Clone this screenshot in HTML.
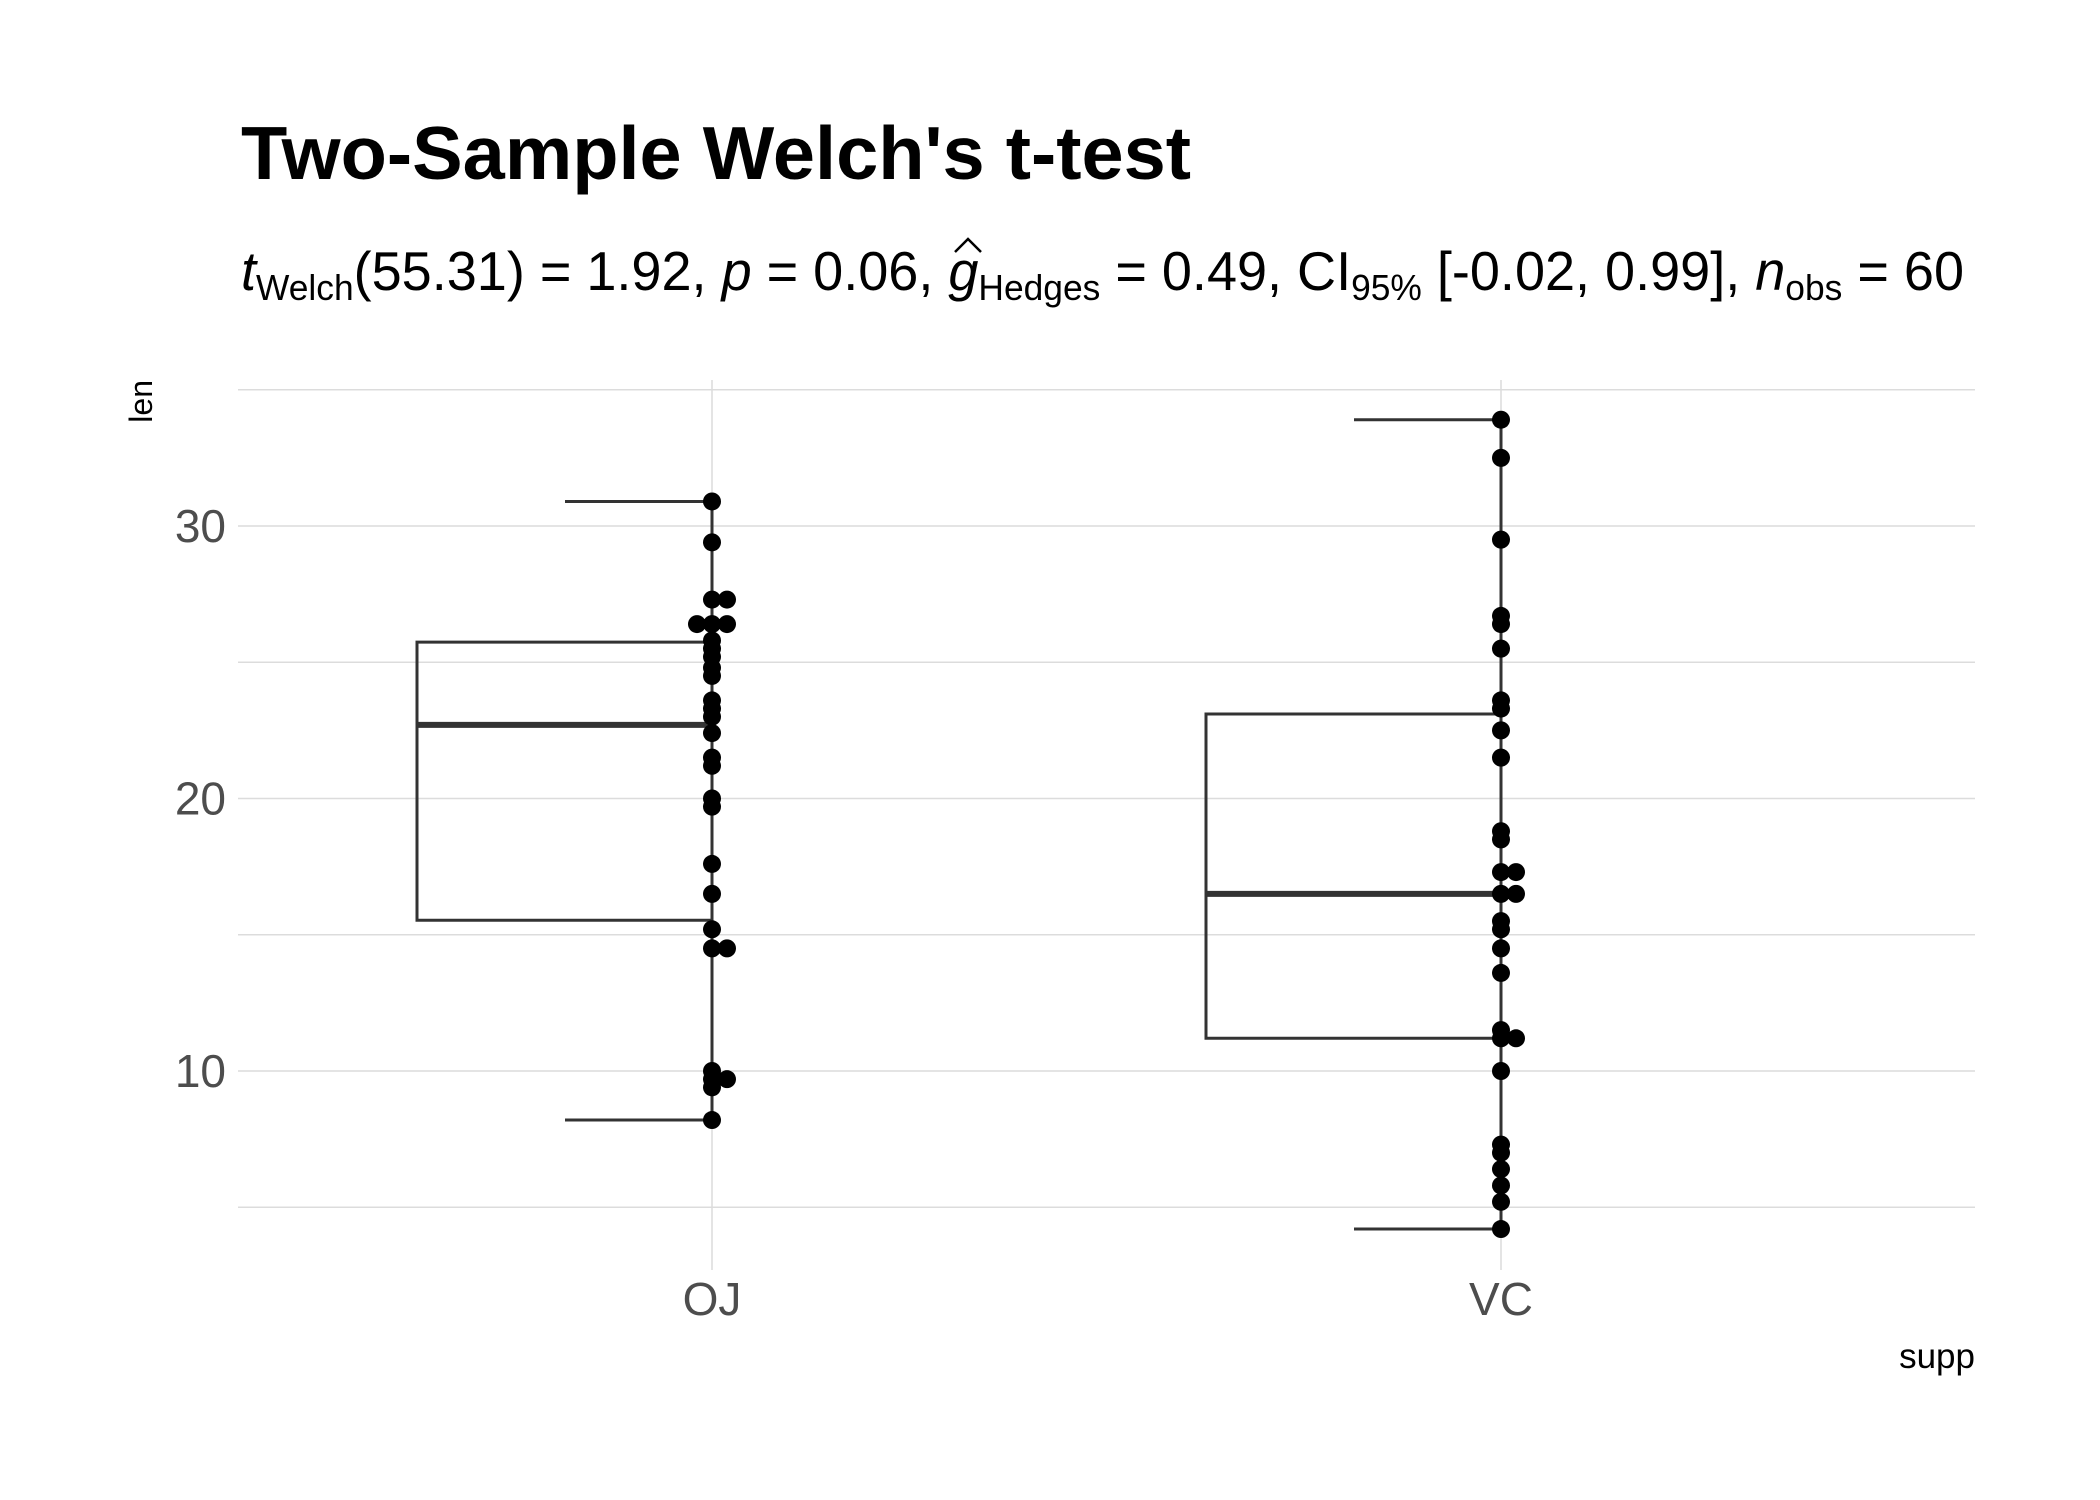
<!DOCTYPE html>
<html><head><meta charset="utf-8"><style>
html,body{margin:0;padding:0;background:#fff;}
svg{display:block;font-family:"Liberation Sans",sans-serif;}
</style></head><body>
<svg id="chart" width="2100" height="1500" viewBox="0 0 2100 1500" xmlns="http://www.w3.org/2000/svg">
<rect width="2100" height="1500" fill="#fff"/>
<text x="241" y="179" font-size="75" font-weight="bold" textLength="950" lengthAdjust="spacingAndGlyphs">Two-Sample Welch's t-test</text>
<text x="241" y="290" font-size="55" textLength="1723" lengthAdjust="spacingAndGlyphs"><tspan font-style="italic">t</tspan><tspan font-size="36" dy="10">Welch</tspan><tspan dy="-10">(55.31) = 1.92, </tspan><tspan font-style="italic">p</tspan><tspan> = 0.06, </tspan><tspan font-style="italic">g</tspan><tspan font-size="36" dy="10">Hedges</tspan><tspan dy="-10"> = 0.49, CI</tspan><tspan font-size="36" dy="10">95%</tspan><tspan dy="-10"> [-0.02, 0.99], </tspan><tspan font-style="italic">n</tspan><tspan font-size="36" dy="10">obs</tspan><tspan dy="-10"> = 60</tspan></text>
<path d="M955 252 L968 239 L981 252" fill="none" stroke="#000" stroke-width="2.5"/>
<g id="grid"></g>
<g id="marks"></g>
<g id="labels"></g>
<text transform="translate(152,380) rotate(-90)" text-anchor="end" font-size="32">len</text>
<text x="1975" y="1368" text-anchor="end" font-size="35">supp</text>
</svg>
<script>
const categories = ["OJ", "VC"];
const ojValues = [15.2,21.5,17.6,9.7,14.5,10,8.2,9.4,16.5,9.7,19.7,23.3,23.6,26.4,20,25.2,25.8,21.2,14.5,27.3,25.5,26.4,22.4,24.5,24.8,30.9,26.4,27.3,29.4,23];
const vcValues = [4.2,11.5,7.3,5.8,6.4,10,11.2,11.2,5.2,7,16.5,16.5,15.2,17.3,22.5,17.3,13.6,14.5,18.8,15.5,23.6,18.5,33.9,25.5,26.4,32.5,26.7,21.5,23.3,29.5];
const boxQ1 = [15.53, 11.2];
const boxMedian = [22.7, 16.5];
const boxQ3 = [25.74, 23.1];
const whiskerLow = [8.2, 4.2];
const whiskerHigh = [30.9, 33.9];
const yTicks = [10, 20, 30];
const yMinor = [5, 15, 25, 35];

const NS = "http://www.w3.org/2000/svg";
const plotLeft = 238, plotRight = 1975;
function y(v){ return 1071 - (v - 10) * 27.25; }
function x(i){ return 712 + i * (1501 - 712); }
function mk(tag, attrs, parent){ const e = document.createElementNS(NS, tag); for (const k in attrs) e.setAttribute(k, attrs[k]); parent.appendChild(e); return e; }
const grid = document.getElementById("grid"), marks = document.getElementById("marks"), labels = document.getElementById("labels");

yMinor.concat(yTicks).forEach(v => {
  const l = mk("line", {x1: plotLeft, x2: plotRight, y1: y(v), y2: y(v), stroke: "#dcdcdc", "stroke-width": 1.5}, grid);
  
  
});
categories.forEach((c, i) => {
  const l = mk("line", {x1: x(i), x2: x(i), y1: 380, y2: 1270, stroke: "#dcdcdc", "stroke-width": 1.5}, grid);
  
  
  const t = mk("text", {x: x(i), y: 1315, "text-anchor": "middle", "font-size": 46, fill: "#4d4d4d"}, labels);
  t.textContent = c;
  
  
});
yTicks.forEach(v => {
  const t = mk("text", {x: 226, y: y(v) + 16, "text-anchor": "end", "font-size": 46, fill: "#4d4d4d"}, labels);
  t.textContent = v;
  
  
});

const boxWidth = 295, capWidth = 147;
categories.forEach((c, i) => {
  const cx = x(i);
  const g = mk("g", {}, marks);
  
  
  const box = mk("path", {d: `M${cx} ${y(boxQ3[i])} H${cx - boxWidth} V${y(boxQ1[i])} H${cx}`, fill: "none", stroke: "#333", "stroke-width": 3}, g);
  
  
  const med = mk("line", {x1: cx - boxWidth, x2: cx, y1: y(boxMedian[i]), y2: y(boxMedian[i]), stroke: "#333", "stroke-width": 6}, g);
  
  
  const wl = mk("line", {x1: cx, x2: cx, y1: y(whiskerHigh[i]), y2: y(whiskerLow[i]), stroke: "#333", "stroke-width": 3}, g);
  
  
  const ct = mk("line", {x1: cx - capWidth, x2: cx, y1: y(whiskerHigh[i]), y2: y(whiskerHigh[i]), stroke: "#333", "stroke-width": 3}, g);
  
  
  const cb = mk("line", {x1: cx - capWidth, x2: cx, y1: y(whiskerLow[i]), y2: y(whiskerLow[i]), stroke: "#333", "stroke-width": 3}, g);
  
  
});

[ojValues, vcValues].forEach((vals, i) => {
  const counts = {};
  vals.forEach(v => { counts[v] = (counts[v] || 0) + 1; });
  const seen = {};
  vals.forEach(v => {
    const n = counts[v], k = seen[v] = (seen[v] || 0) + 1;
    let off = 0;
    if (n === 2) off = (k - 1) * 15;
    else if (n >= 3) off = (k - 2) * 15;
    const p = mk("circle", {cx: x(i) + off, cy: y(v), r: 9, fill: "#000"}, marks);
    
    
  });
});
</script>
</body></html>
